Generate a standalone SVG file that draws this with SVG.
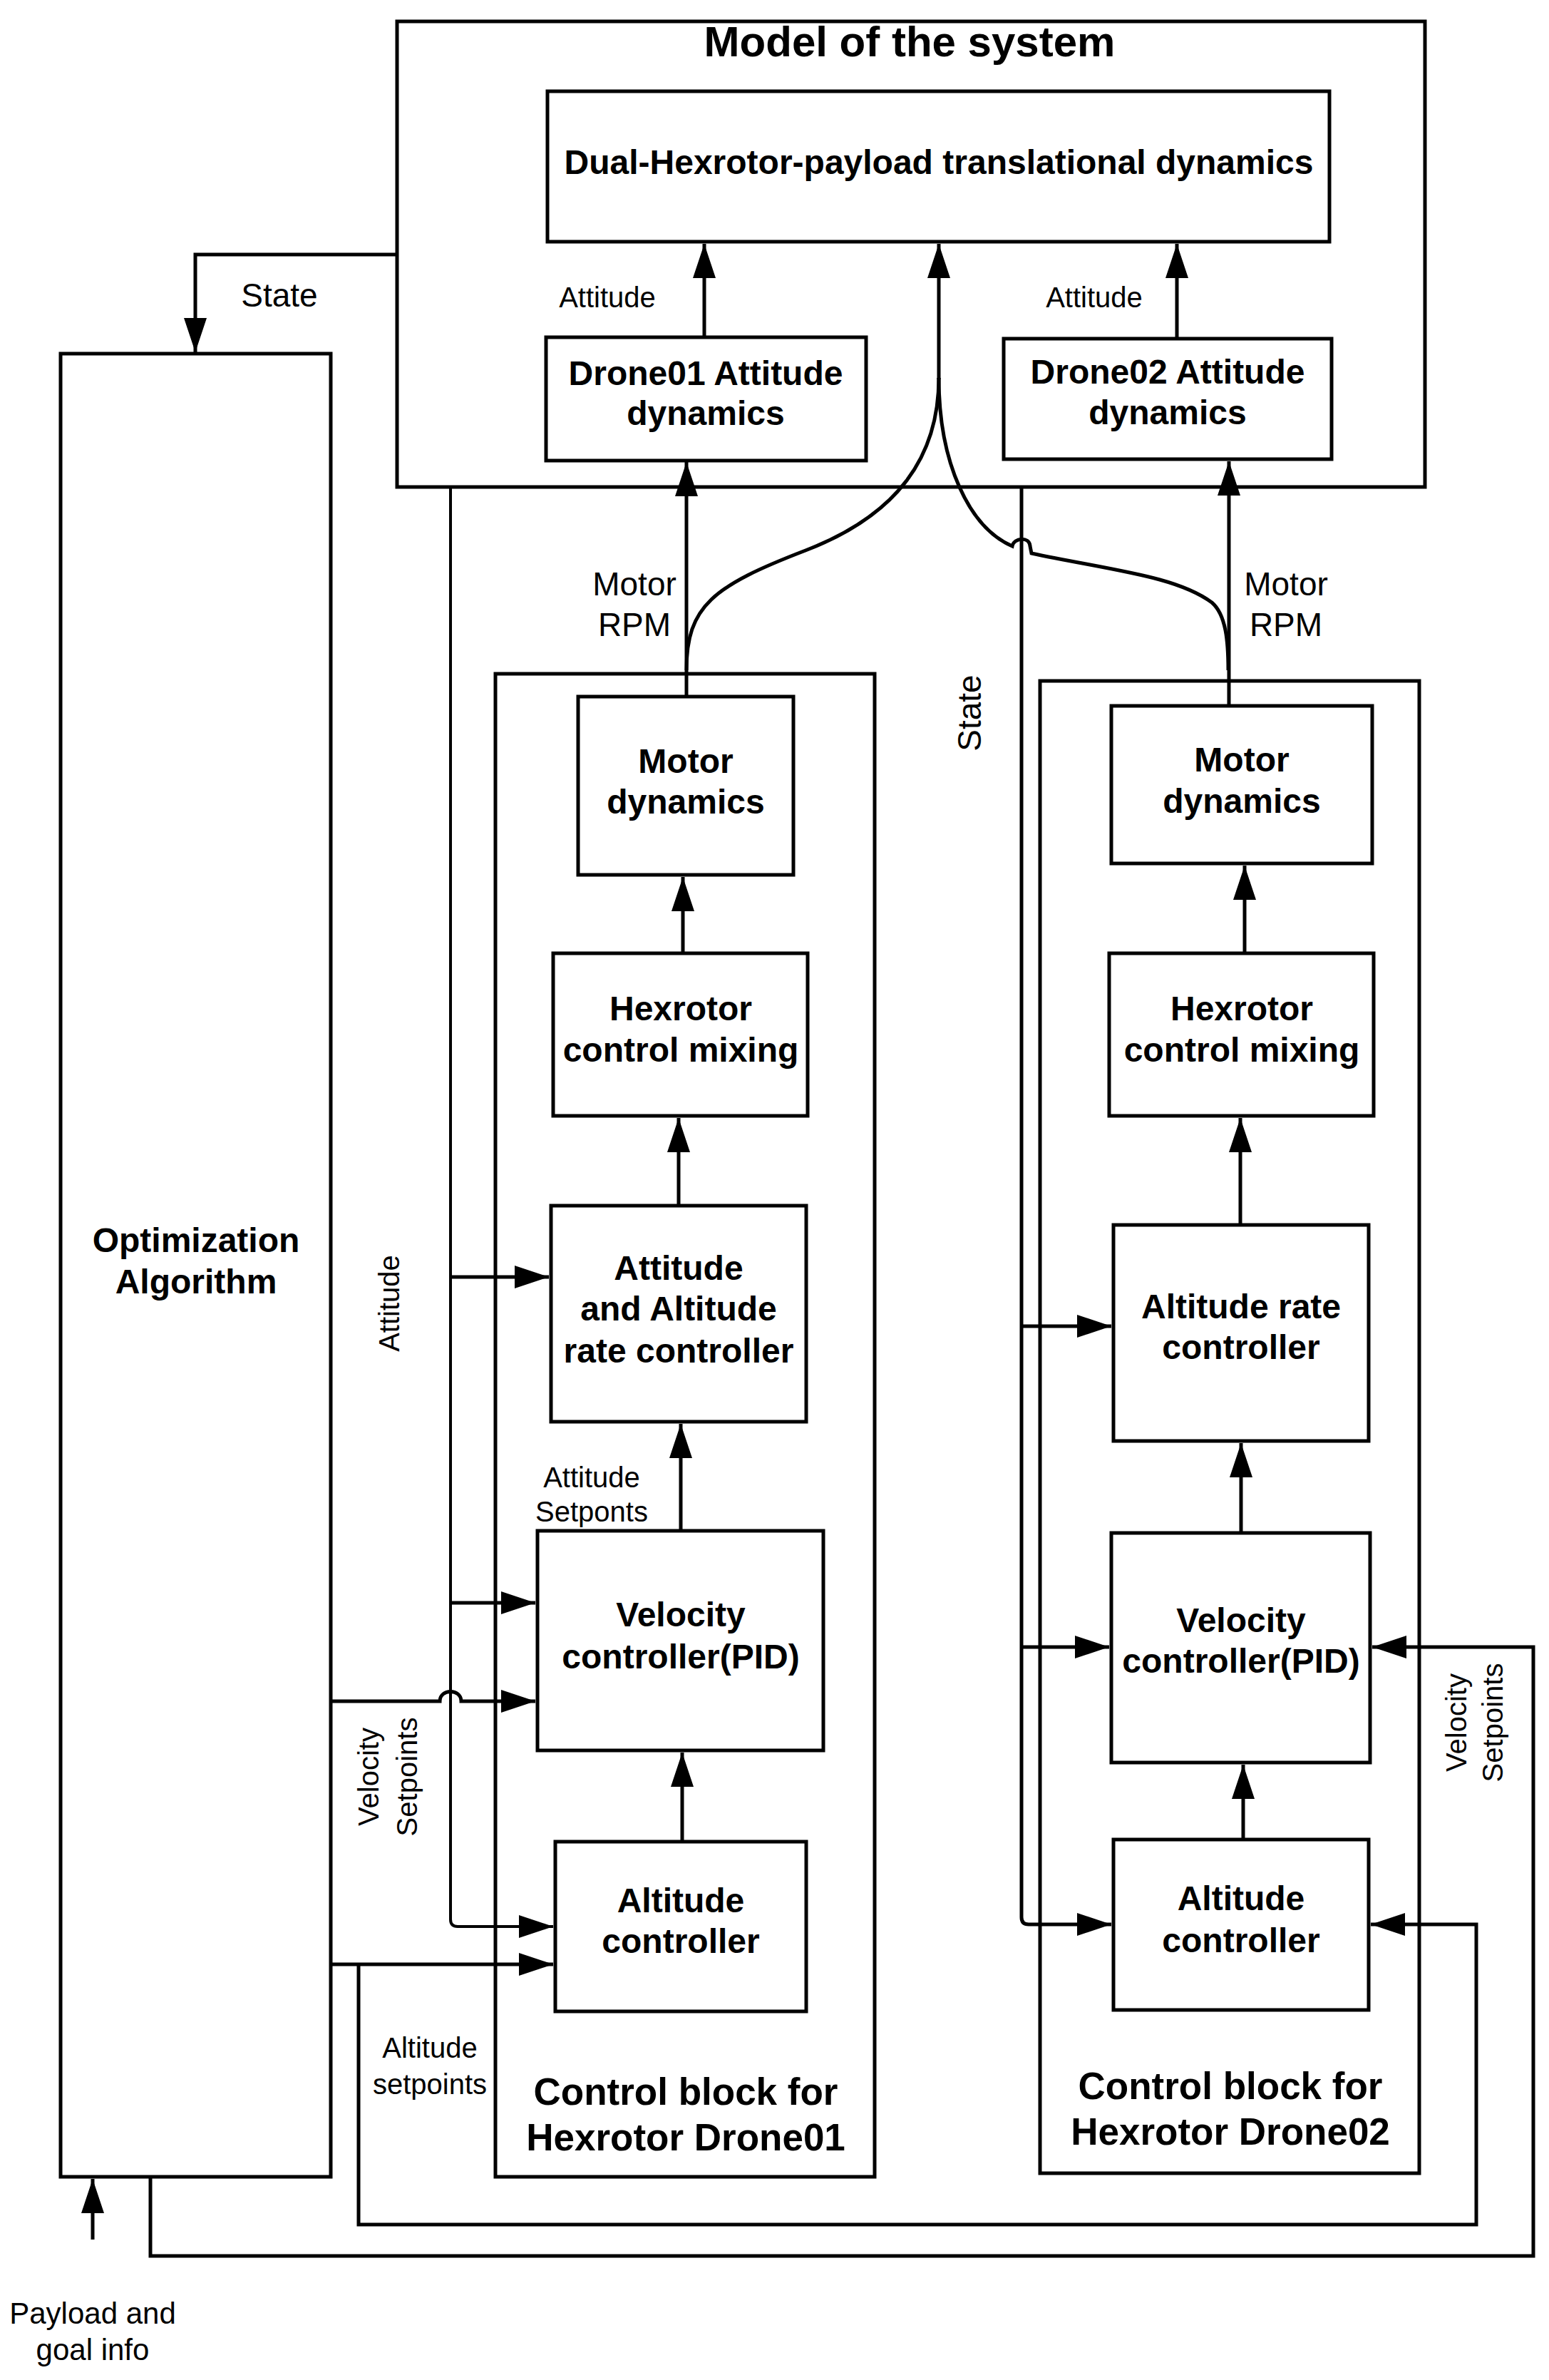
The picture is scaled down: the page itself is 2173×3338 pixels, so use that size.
<svg xmlns="http://www.w3.org/2000/svg" width="2173" height="3338" viewBox="0 0 2173 3338">
<style>
.box{fill:#fff;stroke:#000;stroke-width:5}
.cont{fill:none;stroke:#000;stroke-width:5}
.nt{font-family:"Liberation Sans",Arial,sans-serif;font-weight:bold;font-size:48px;text-anchor:middle;fill:#000}
.title{font-family:"Liberation Sans",Arial,sans-serif;font-weight:bold;font-size:60px;text-anchor:middle;fill:#000}
.cb{font-family:"Liberation Sans",Arial,sans-serif;font-weight:bold;font-size:53px;text-anchor:middle;fill:#000}
.lb{font-family:"Liberation Sans",Arial,sans-serif;font-size:40px;text-anchor:middle;fill:#000}
.lb46{font-family:"Liberation Sans",Arial,sans-serif;font-size:46px;text-anchor:middle;fill:#000}
.lb42{font-family:"Liberation Sans",Arial,sans-serif;font-size:42px;text-anchor:middle;fill:#000}
.c{fill:none;stroke:#000;stroke-width:5}
.a{fill:none;stroke:#000;stroke-width:5;marker-end:url(#arr)}
</style>
<defs>
<marker id="arr" markerUnits="userSpaceOnUse" markerWidth="48" markerHeight="32" viewBox="0 0 48 32" refX="48" refY="16" orient="auto">
<path d="M0,0 L48,16 L0,32 z" fill="#000"/>
</marker>
</defs>
<rect width="2173" height="3338" fill="#fff"/>

<g id="model">
<rect class="cont" x="557" y="30" width="1442" height="653"/>
<text class="title" x="1276" y="79">Model of the system</text>
</g>
<g id="block1">
<rect class="cont" x="695" y="945" width="532" height="2108"/>
<text class="cb" x="962" y="2952">Control block for</text>
<text class="cb" x="962" y="3016">Hexrotor Drone01</text>
</g>
<g id="block2">
<rect class="cont" x="1459" y="955" width="532" height="2093"/>
<text class="cb" x="1726" y="2944">Control block for</text>
<text class="cb" x="1726" y="3008">Hexrotor Drone02</text>
</g>

<g id="connectors">
<path class="a" d="M557,357 H274 V494"/>
<path class="a" d="M988,471 V342"/>
<path class="a" d="M1651,475 V342"/>
<path class="a" d="M1317,532 V342"/>
<path class="a" d="M963,977 V648"/>
<path class="a" d="M1724,990 V647"/>
<path class="c" d="M963,940 C963,850 1000,822 1130,772 C1260,722 1317,640 1317,530"/>
<path class="c" d="M1317,530 C1317,650 1360,740 1420,766 C1422,754 1444,752 1445,766 L1447,776 C1560,800 1650,808 1700,845 C1720,862 1723,900 1723,940"/>
<path d="M632,683 V2692 Q632,2702 642,2702 H776" fill="none" stroke="#000" stroke-width="4" marker-end="url(#arr)"/>
<path d="M632,1791 H770" fill="none" stroke="#000" stroke-width="5" marker-end="url(#arr)"/>
<path d="M632,2248 H751" fill="none" stroke="#000" stroke-width="5" marker-end="url(#arr)"/>
<path class="a" d="M1433,683 V2689 Q1433,2699 1443,2699 H1559"/>
<path class="a" d="M1433,1860 H1559"/>
<path class="a" d="M1433,2310 H1556"/>
<path class="a" d="M465,2386 H617 C617,2368 647,2368 647,2386 H751"/>
<path class="a" d="M465,2755 H776"/>
<path class="a" d="M503,2755 V3120 H2071 V2699 H1923"/>
<path class="a" d="M211,3053 V3164 H2151 V2310 H1925"/>
<path class="a" d="M130,3141 V3056"/>
<path class="a" d="M958,1337 V1230"/>
<path class="a" d="M952,1691 V1568"/>
<path class="a" d="M955,2147 V1997"/>
<path class="a" d="M957,2583 V2458"/>
<path class="a" d="M1746,1337 V1214"/>
<path class="a" d="M1740,1718 V1568"/>
<path class="a" d="M1741,2150 V2024"/>
<path class="a" d="M1744,2580 V2475"/>
</g>

<g id="labels">
<text class="lb46" x="392" y="430">State</text>
<text class="lb" x="852" y="431">Attitude</text>
<text class="lb" x="1535" y="431">Attitude</text>
<text class="lb46" x="890" y="835">Motor</text>
<text class="lb46" x="890" y="892">RPM</text>
<text class="lb46" x="1804" y="835">Motor</text>
<text class="lb46" x="1804" y="892">RPM</text>
<text class="lb46" transform="translate(1376,1000) rotate(-90)">State</text>
<text class="lb" transform="translate(560,1828) rotate(-90)">Attitude</text>
<text class="lb" x="830" y="2086">Attitude</text>
<text class="lb" x="830" y="2134">Setponts</text>
<text class="lb" transform="translate(531,2492) rotate(-90)">Velocity<tspan x="0" dy="54">Setpoints</tspan></text>
<text class="lb" transform="translate(2057,2416) rotate(-90)">Velocity<tspan x="0" dy="51">Setpoints</tspan></text>
<text class="lb" x="603" y="2886">Altitude</text>
<text class="lb" x="603" y="2937">setpoints</text>
<text class="lb42" x="130" y="3259">Payload and</text>
<text class="lb42" x="130" y="3310">goal info</text>
</g>

<g id="dual">
<rect class="box" x="768" y="128" width="1097" height="211"/>
<text class="nt" x="1317" y="244">Dual-Hexrotor-payload translational dynamics</text>
</g>
<g id="drone01-att">
<rect class="box" x="766" y="473" width="449" height="173"/>
<text class="nt" x="990" y="540">Drone01 Attitude</text>
<text class="nt" x="990" y="596">dynamics</text>
</g>
<g id="drone02-att">
<rect class="box" x="1408" y="475" width="460" height="169"/>
<text class="nt" x="1638" y="538">Drone02 Attitude</text>
<text class="nt" x="1638" y="595">dynamics</text>
</g>
<g id="optimization">
<rect class="box" x="85" y="496" width="379" height="2557"/>
<text class="nt" x="275" y="1756">Optimization</text>
<text class="nt" x="275" y="1814">Algorithm</text>
</g>
<g id="motor1">
<rect class="box" x="811" y="977" width="302" height="250"/>
<text class="nt" x="962" y="1084">Motor</text>
<text class="nt" x="962" y="1141">dynamics</text>
</g>
<g id="mixing1">
<rect class="box" x="776" y="1337" width="357" height="228"/>
<text class="nt" x="955" y="1431">Hexrotor</text>
<text class="nt" x="955" y="1489">control mixing</text>
</g>
<g id="attrate1">
<rect class="box" x="773" y="1691" width="358" height="303"/>
<text class="nt" x="952" y="1795">Attitude</text>
<text class="nt" x="952" y="1852">and Altitude</text>
<text class="nt" x="952" y="1911">rate controller</text>
</g>
<g id="velocity1">
<rect class="box" x="754" y="2147" width="401" height="308"/>
<text class="nt" x="955" y="2281">Velocity</text>
<text class="nt" x="955" y="2340">controller(PID)</text>
</g>
<g id="altitude1">
<rect class="box" x="779" y="2583" width="352" height="238"/>
<text class="nt" x="955" y="2682">Altitude</text>
<text class="nt" x="955" y="2739">controller</text>
</g>
<g id="motor2">
<rect class="box" x="1559" y="990" width="366" height="221"/>
<text class="nt" x="1742" y="1082">Motor</text>
<text class="nt" x="1742" y="1140">dynamics</text>
</g>
<g id="mixing2">
<rect class="box" x="1556" y="1337" width="371" height="228"/>
<text class="nt" x="1742" y="1431">Hexrotor</text>
<text class="nt" x="1742" y="1489">control mixing</text>
</g>
<g id="altrate2">
<rect class="box" x="1562" y="1718" width="358" height="303"/>
<text class="nt" x="1741" y="1849">Altitude rate</text>
<text class="nt" x="1741" y="1906">controller</text>
</g>
<g id="velocity2">
<rect class="box" x="1559" y="2150" width="363" height="322"/>
<text class="nt" x="1741" y="2289">Velocity</text>
<text class="nt" x="1741" y="2346">controller(PID)</text>
</g>
<g id="altitude2">
<rect class="box" x="1562" y="2580" width="358" height="239"/>
<text class="nt" x="1741" y="2679">Altitude</text>
<text class="nt" x="1741" y="2738">controller</text>
</g>
</svg>
